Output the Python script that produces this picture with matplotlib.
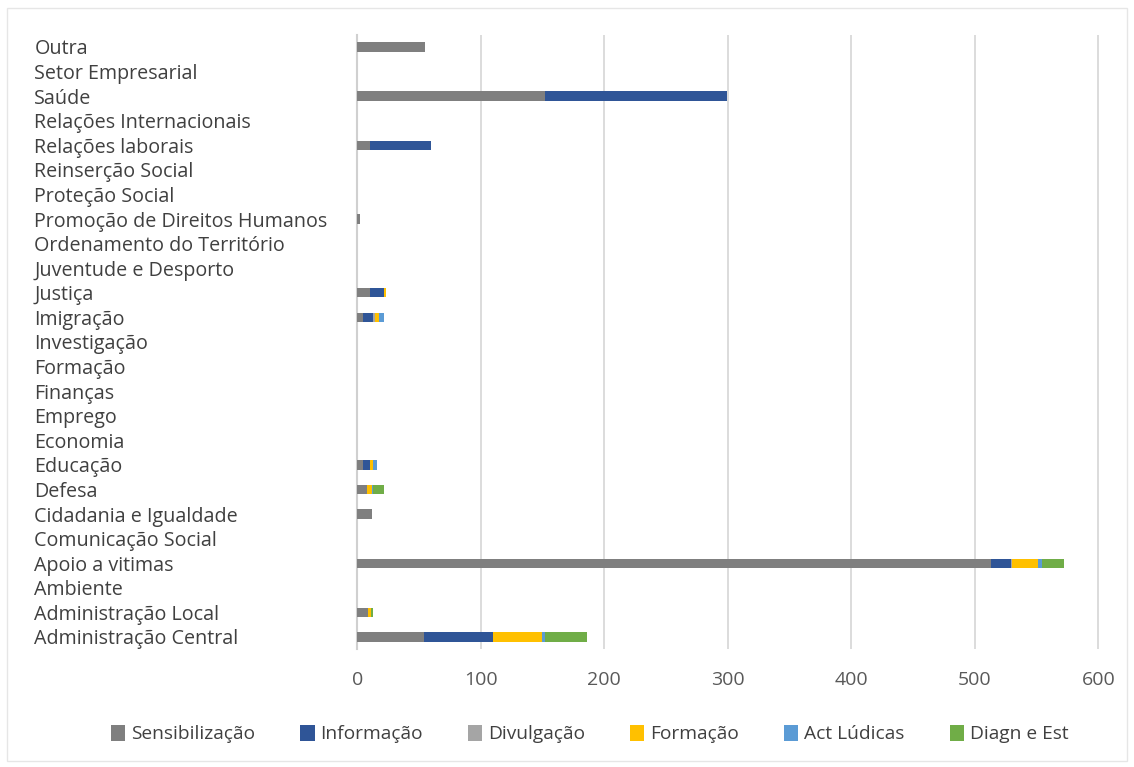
import matplotlib.pyplot as plt
import numpy as np
from matplotlib.patches import Rectangle

plt.rcParams['font.family'] = ['Open Sans', 'DejaVu Sans']

# categories from bottom to top
categories = ['Administração Central', 'Administração Local', 'Ambiente', 'Apoio a vitimas',
              'Comunicação Social', 'Cidadania e Igualdade', 'Defesa', 'Educação', 'Economia',
              'Emprego', 'Finanças', 'Formação', 'Investigação', 'Imigração', 'Justiça',
              'Juventude e Desporto', 'Ordenamento do Território', 'Promoção de Direitos Humanos',
              'Proteção Social', 'Reinserção Social', 'Relações laborais',
              'Relações Internacionais', 'Saúde', 'Setor Empresarial', 'Outra']

sensibilizacao = [54, 9, 0, 513, 0, 12, 8, 5, 0, 0, 0, 0, 0, 5, 10, 0, 0, 2, 0, 0, 10, 0, 152, 0, 55]
informacao     = [56, 0, 0, 16, 0, 0, 0, 5, 0, 0, 0, 0, 0, 8, 12, 0, 0, 0, 0, 0, 50, 0, 147, 0, 0]
divulgacao     = [0, 0, 0, 1, 0, 0, 0, 0, 0, 0, 0, 0, 0, 1, 0, 0, 0, 0, 0, 0, 0, 0, 0, 0, 0]
formacao       = [40, 2, 0, 21, 0, 0, 4, 3, 0, 0, 0, 0, 0, 4, 1, 0, 0, 0, 0, 0, 0, 0, 0, 0, 0]
act_ludicas    = [2, 0, 0, 3, 0, 0, 1, 3, 0, 0, 0, 0, 0, 4, 0, 0, 0, 0, 0, 0, 0, 0, 0, 0, 0]
diagn_est      = [34, 2, 0, 18, 0, 0, 9, 0, 0, 0, 0, 0, 0, 0, 0, 0, 0, 0, 0, 0, 0, 0, 0, 0, 0]

series = [('Sensibilização', sensibilizacao, '#7f7f7f'),
          ('Informação', informacao, '#2f5597'),
          ('Divulgação', divulgacao, '#a5a5a5'),
          ('Formação', formacao, '#ffc000'),
          ('Act Lúdicas', act_ludicas, '#5b9bd5'),
          ('Diagn e Est', diagn_est, '#70ad47')]

fig = plt.figure(figsize=(11.34, 7.67), dpi=100)
ax = fig.add_axes([0.315, 0.1535, 0.659, 0.8013])

y = np.arange(len(categories))
left = np.zeros(len(categories))
for name, vals, col in series:
    vals = np.array(vals, dtype=float)
    ax.barh(y, vals, left=left, height=0.38, color=col, label=name, zorder=3)
    left += vals

ax.set_xlim(0, 605)
ax.set_ylim(-0.5, len(categories) - 0.5)
ax.set_xticks(range(0, 601, 100))
ax.set_yticks(y)
ax.set_yticklabels(categories, ha='left')
ax.tick_params(axis='y', length=0, pad=232.5, labelsize=14.2, labelcolor='#404040')
ax.tick_params(axis='x', length=0, pad=16, labelsize=14, labelcolor='#595959')
ax.grid(axis='x', color='#d9d9d9', linewidth=1.3, zorder=0)
for s in ['top', 'right', 'bottom']:
    ax.spines[s].set_visible(False)
ax.spines['left'].set_color('#d0d0d0')
ax.spines['left'].set_linewidth(1.5)

fig.legend(loc='center', bbox_to_anchor=(0.52, 0.043), ncol=6, frameon=False,
           fontsize=13.8, handlelength=0.75, handleheight=0.9, handletextpad=0.3,
           columnspacing=2.35, labelcolor='#404040')

fig.patches.append(Rectangle((0.006, 0.008), 0.988, 0.982, transform=fig.transFigure,
                             fill=False, edgecolor='#e6e6e6', linewidth=1))

fig.savefig('out.png', dpi=100)
